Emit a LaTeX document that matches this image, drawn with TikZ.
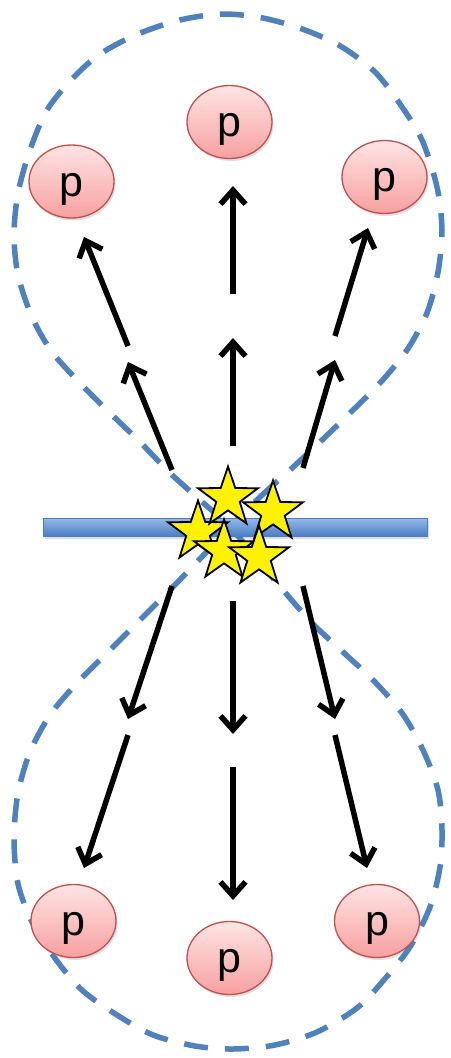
\documentclass[tikz,border=0pt]{standalone}
\usepackage{fontspec}
\newfontfamily\pfont{Liberation Sans}
\usetikzlibrary{shapes.geometric,arrows.meta,shadows}
\definecolor{lobeblue}{RGB}{79,129,189}
\definecolor{barlight}{RGB}{150,186,236}
\definecolor{bardark}{RGB}{74,126,195}
\definecolor{pinktop}{RGB}{255,228,228}
\definecolor{pinkbot}{RGB}{247,160,160}
\definecolor{pinkedge}{RGB}{192,80,77}
\tikzset{
  proton/.style={ellipse, draw=pinkedge, line width=1.3pt, top color=pinktop, bottom color=pinkbot,
    minimum width=85pt, minimum height=73pt, inner sep=0pt,
    font=\pfont\fontsize{43}{43}\selectfont, text height=38pt, text depth=9pt,
    drop shadow={shadow xshift=1.5pt, shadow yshift=-2.5pt, opacity=0.25}},
  flash/.style={star, star points=5, star point ratio=2.55, minimum size=63pt, inner sep=0pt,
    draw=black, line width=1.8pt, fill=yellow},
  emit/.style={line width=5.5pt, -{Straight Barb[length=14pt,width=25pt]}},
  lobe/.style={draw=lobeblue, line width=5.5pt, dash pattern=on 24pt off 17pt},
  plate/.style={draw=bardark, line width=0.8pt, top color=barlight, bottom color=bardark,
    drop shadow={shadow xshift=1.5pt, shadow yshift=-2.5pt, opacity=0.25}}
}
\begin{document}
\begin{tikzpicture}[x=1pt,y=-1pt]
\useasboundingbox (0,0) rectangle (450,1058);
% dashed figure-eight
\draw[lobe] plot[smooth cycle, tension=0.5] coordinates {
 (230,527) (260,497) (290,470) (320,442) (350,413) (380,383) (407,350) (427,313)
 (438,272) (442,230) (437,187) (422,140) (400,104) (375,72) (342,47) (305,30)
 (263,18) (222,14) (180,20) (138,34) (100,54) (72,79) (47,110) (30,150) (18,193)
 (14,235) (18,275) (32,317) (52,352) (80,383) (110,413) (140,442) (170,473) (200,500)
 (230,527) (256,558) (283,590) (312,623) (343,652) (373,680) (402,713) (423,750)
 (438,790) (442,830) (440,867) (430,907) (410,947) (383,981) (357,1008) (317,1032)
 (275,1045) (233,1049) (195,1046) (153,1035) (117,1015) (83,991) (57,961) (33,924)
 (18,884) (14,838) (18,793) (30,752) (50,715) (77,683) (107,653) (137,623) (167,593)
 (196,563)};
% plate
\node[plate, minimum width=384pt, minimum height=18pt, inner sep=0pt] (bar) at (235,527) {};
% arrow coordinates
\coordinate (tl1s) at (172,470); \coordinate (tl1e) at (128,362);
\coordinate (tl2s) at (128,346); \coordinate (tl2e) at (84,237);
\coordinate (tc1s) at (233,446); \coordinate (tc1e) at (233,338);
\coordinate (tc2s) at (233,294); \coordinate (tc2e) at (233,186);
\coordinate (tr1s) at (303,468); \coordinate (tr1e) at (335,360);
\coordinate (tr2s) at (335,336); \coordinate (tr2e) at (368,228);
\coordinate (bl1s) at (172,586); \coordinate (bl1e) at (128,719);
\coordinate (bl2s) at (128,735); \coordinate (bl2e) at (84,868);
\coordinate (bc1s) at (233,601); \coordinate (bc1e) at (233,734);
\coordinate (bc2s) at (233,767); \coordinate (bc2e) at (233,900);
\coordinate (br1s) at (303,586); \coordinate (br1e) at (335,719);
\coordinate (br2s) at (335,735); \coordinate (br2e) at (367,868);
\foreach \a in {tl1,tl2,tc1,tc2,tr1,tr2,bl1,bl2,bc1,bc2,br1,br2}
  \draw[emit] (\a s) -- (\a e);
% protons
\node[proton] (p1) at (71.5,181.5) {p};
\node[proton] (p2) at (229.5,122) {p};
\node[proton] (p3) at (384.5,177) {p};
\node[proton] (p4) at (73.5,921) {p};
\node[proton] (p5) at (229.5,958) {p};
\node[proton] (p6) at (377,921) {p};
% stars
\node[flash] (s3) at (198,532) {};
\node[flash] (s1) at (228,498) {};
\node[flash] (s2) at (273,512) {};
\node[flash] (s4) at (224,551) {};
\node[flash] (s5) at (259,557) {};
\end{tikzpicture}
\end{document}
